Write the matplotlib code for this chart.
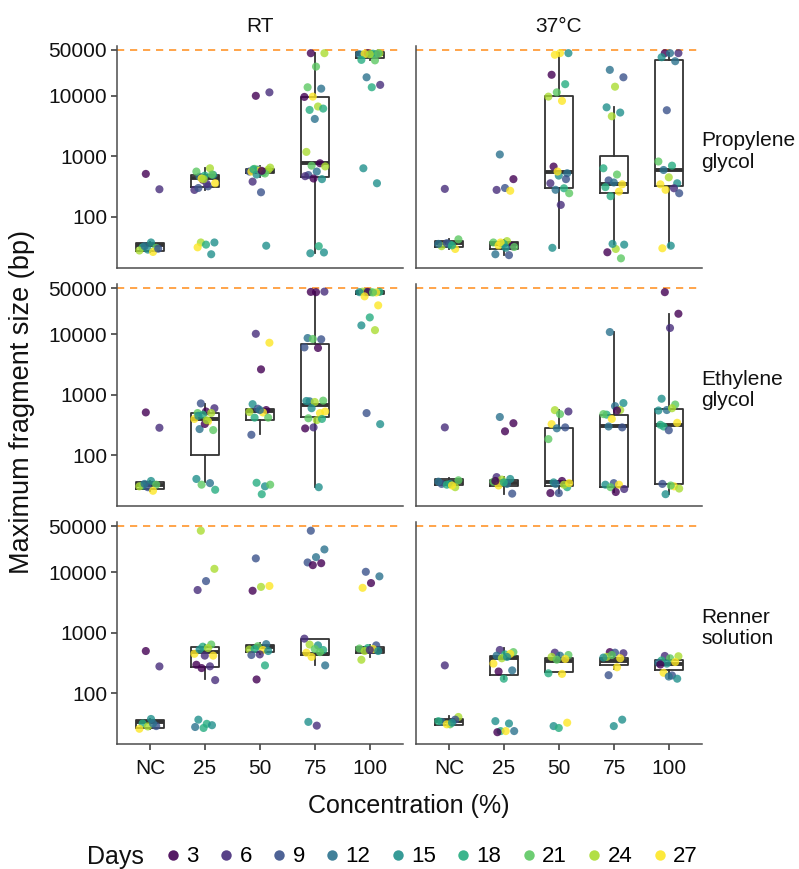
import numpy as np
import matplotlib.pyplot as plt
from matplotlib.lines import Line2D

plt.rcParams['font.family'] = ['Liberation Sans', 'DejaVu Sans']

concs = ['NC', '25', '50', '75', '100']
days = [3, 6, 9, 12, 15, 18, 21, 24, 27]
day_colors = ['#440154', '#472D7B', '#3B528B', '#2C728E', '#21908C',
              '#27AD81', '#5DC863', '#AADC32', '#FDE725']
temps = ['RT', '37°C']
solvents = ['Propylene\nglycol', 'Ethylene\nglycol', 'Renner\nsolution']
y_ticks = [100, 1000, 10000, 56600]
y_ticklabels = ['100', '1000', '10000', '50000']
cap_bp = 56600

# (day, max fragment bp) per concentration; box stats = (low whisker, q1, median, q3, high whisker)
pg_rt = [
    [(3, 512), (6, 286), (15, 38), (18, 31.6), (21, 31), (15, 29), (24, 28), (27, 26.5), (12, 33), (9, 30)],
    [(24, 38), (15, 38), (18, 35), (27, 31.6), (15, 24.3), (3, 410), (6, 279), (9, 320), (12, 460), (15, 494),
     (18, 480), (21, 560), (24, 634), (27, 430), (27, 360), (6, 350), (9, 300), (21, 500), (24, 420)],
    [(3, 9900), (6, 11300), (9, 255), (6, 382), (15, 33.6), (12, 600), (9, 560), (18, 540), (21, 620),
     (24, 600), (27, 580), (27, 560), (21, 520), (15, 500), (24, 650), (3, 575), (18, 610)],
    [(3, 49900), (24, 49900), (21, 30000), (21, 13700), (12, 13000), (27, 9600), (3, 9500), (24, 6600),
     (18, 5800), (18, 6100), (12, 4120), (24, 1180), (3, 767), (21, 700), (24, 680), (12, 560), (9, 490),
     (15, 420), (3, 430), (6, 470), (18, 33), (15, 25.2), (15, 26)],
    [(27, 49000), (24, 49500), (21, 48500), (15, 47000), (9, 48000), (3, 49900), (12, 48000), (18, 49000),
     (27, 48700), (21, 49500), (24, 48000), (18, 38700), (21, 38000), (12, 20000), (6, 15000), (18, 13700),
     (15, 634), (15, 359)],
]
pg_rt_box = [(26, 28, 35, 37.6, 38), (279, 308, 445, 494, 634), (450, 525, 578, 618, 680),
             (25.2, 462, 767, 9600, 49900), (38700, 41200, 48700, 51800, 50500)]

pg_37 = [
    [(6, 290), (21, 42.8), (15, 35), (24, 33), (27, 29.7), (9, 37), (12, 36), (18, 34)],
    [(12, 1070), (3, 420), (9, 300), (6, 279), (27, 270), (15, 36), (21, 38), (24, 40), (27, 34), (3, 33),
     (18, 36), (12, 24.3), (9, 23.5), (27, 38), (21, 32), (15, 31)],
    [(27, 47000), (15, 50000), (27, 50000), (3, 22000), (18, 15400), (21, 11300), (24, 9600), (27, 8170),
     (3, 676), (12, 525), (15, 480), (6, 359), (18, 297), (12, 280), (21, 246), (6, 158), (15, 31),
     (9, 420), (27, 560)],
    [(12, 26500), (9, 20000), (24, 14000), (15, 6400), (15, 5250), (24, 4560), (18, 634), (21, 500), (9, 400),
     (27, 345), (12, 370), (18, 310), (27, 262), (18, 220), (15, 35), (24, 29.7), (3, 26.2), (21, 20.8),
     (15, 36)],
    [(3, 50000), (6, 50000), (12, 50000), (15, 42800), (12, 36800), (9, 5730), (21, 820), (18, 700),
     (12, 594), (15, 359), (24, 450), (27, 345), (6, 297), (27, 280), (9, 246), (15, 33.6), (27, 30.5)],
]
pg_37_box = [(29.7, 32, 36.8, 40.2, 42.8), (24, 30, 35.5, 39, 42), (30.5, 300, 545, 10000, 50000),
             (36, 246, 350, 1025, 6600), (32.4, 328, 594, 38200, 50000)]

eg_rt = [
    [(3, 512), (6, 286), (15, 38), (18, 32), (21, 33), (9, 30), (24, 31), (27, 26.2), (12, 34)],
    [(9, 720), (6, 600), (3, 530), (21, 500), (24, 500), (18, 470), (27, 400), (27, 365), (12, 272),
     (21, 262), (3, 330), (15, 41), (12, 35), (21, 33), (18, 27.2), (24, 380), (15, 450)],
    [(6, 10100), (27, 7200), (3, 2620), (15, 700), (3, 560), (9, 590), (24, 520), (27, 510), (18, 420),
     (21, 420), (12, 560), (9, 219), (15, 31), (18, 35.5), (21, 33), (18, 23)],
    [(3, 49500), (6, 50000), (3, 49000), (12, 8600), (9, 8200), (21, 8300), (9, 6030), (3, 5900), (12, 780),
     (21, 800), (24, 760), (15, 790), (27, 499), (15, 600), (27, 530), (24, 382), (21, 410), (18, 400),
     (6, 290), (3, 279), (15, 30)],
    [(12, 49000), (18, 49500), (21, 49000), (24, 50000), (27, 48500), (3, 49500), (15, 49000), (21, 48500),
     (27, 41800), (27, 29700), (18, 18800), (15, 13900), (24, 11600), (9, 499), (15, 328)],
]
eg_rt_box = [(26.2, 28.3, 33, 37.2, 38), (37.2, 100, 400, 499, 702), (225, 385, 530, 588, 610),
             (30, 423, 680, 6850, 49500), (44000, 45600, 49000, 51800, 50500)]

eg_37 = [
    [(6, 290), (21, 39), (15, 34), (9, 34), (24, 30), (18, 33), (12, 37), (27, 32)],
    [(12, 430), (3, 340), (3, 250), (6, 44), (15, 41), (24, 40), (21, 37), (12, 34), (27, 32), (9, 23.5),
     (18, 36), (3, 38)],
    [(24, 558), (6, 530), (21, 480), (27, 328), (9, 290), (12, 280), (21, 186), (3, 38), (15, 36), (18, 30),
     (9, 24), (3, 24), (24, 33), (12, 34), (27, 35)],
    [(12, 10800), (15, 730), (12, 650), (18, 470), (24, 560), (27, 400), (21, 480), (3, 550), (12, 300),
     (9, 290), (9, 35), (15, 33), (27, 33), (21, 30), (6, 28), (3, 25)],
    [(3, 49000), (3, 21600), (6, 12600), (15, 860), (21, 690), (12, 560), (15, 550), (24, 600), (18, 300),
     (27, 345), (9, 260), (18, 320), (27, 31), (15, 23), (24, 28.5), (21, 32), (9, 34)],
]
eg_37_box = [(30, 32.4, 36.3, 40.2, 43), (23.5, 31.6, 35, 39, 44), (24, 31.6, 37.2, 283, 558),
             (25, 30.5, 300, 462, 10800), (23, 34, 320, 588, 21600)]

rs_rt = [
    [(3, 500), (6, 279), (15, 38), (18, 32), (9, 29), (24, 28.6), (27, 26.2), (12, 32)],
    [(24, 48000), (24, 11300), (9, 7100), (6, 5060), (21, 640), (18, 590), (27, 450), (24, 560), (15, 530),
     (27, 420), (6, 420), (3, 297), (6, 280), (3, 262), (6, 166), (18, 31.6), (15, 37), (15, 30), (18, 27),
     (12, 28)],
    [(9, 16800), (27, 5900), (24, 5700), (3, 4920), (12, 650), (21, 600), (24, 530), (27, 520), (18, 540),
     (15, 500), (6, 440), (9, 430), (18, 290), (3, 170)],
    [(9, 48000), (12, 23600), (12, 17600), (9, 14400), (3, 14000), (3, 13000), (6, 800), (15, 620),
     (24, 640), (18, 520), (21, 540), (27, 470), (21, 480), (27, 400), (12, 290), (6, 29.5), (15, 34)],
    [(9, 10100), (12, 8500), (3, 6590), (27, 5500), (9, 620), (18, 560), (21, 550), (27, 540), (24, 500),
     (15, 500), (6, 520), (24, 359)],
]
rs_rt_box = [(26, 26.9, 34, 36.3, 38), (170, 272, 475, 573, 640), (440, 487, 588, 618, 680),
             (290, 430, 455, 796, 800), (400, 470, 525, 588, 620)]

rs_37 = [
    [(6, 290), (24, 41), (21, 31), (12, 34), (9, 37), (27, 31), (18, 35), (15, 33)],
    [(6, 520), (21, 480), (18, 440), (12, 420), (27, 450), (24, 380), (27, 310), (15, 400), (3, 230),
     (12, 240), (18, 175), (15, 35), (15, 32), (18, 24), (12, 24), (27, 24), (3, 23)],
    [(6, 470), (21, 430), (12, 420), (24, 400), (27, 370), (21, 360), (18, 215), (27, 210), (15, 29),
     (27, 33), (18, 27)],
    [(3, 480), (6, 460), (9, 470), (24, 400), (27, 380), (21, 430), (15, 390), (27, 270), (9, 200),
     (15, 37), (15, 29)],
    [(6, 415), (24, 410), (21, 380), (18, 350), (27, 330), (15, 310), (12, 320), (9, 198), (27, 219),
     (15, 175), (12, 190), (3, 300)],
]
rs_37_box = [(29, 30.8, 35, 38.6, 42), (175, 198, 377, 418, 560), (210, 225, 340, 377, 470),
             (250, 293, 345, 385, 470), (180, 240, 310, 354, 420)]

panels = [[(pg_rt, pg_rt_box), (pg_37, pg_37_box)],
          [(eg_rt, eg_rt_box), (eg_37, eg_37_box)],
          [(rs_rt, rs_rt_box), (rs_37, rs_37_box)]]

W, H = 799, 869
fig = plt.figure(figsize=(W / 100, H / 100), dpi=100)

col_left = [117, 416]
col_w = 286
row_top = [45.5, 284, 522]
row_h = 222
axis_col = '#4D4D4D'
box_col = '#333333'


def jitter(n, width=0.2):
    # deterministic spread (no random numbers)
    return (np.mod(np.arange(n) * 0.618034 + 0.31, 1.0) - 0.5) * 2 * width


for r in range(3):
    for c in range(2):
        pts, box = panels[r][c]
        ax = fig.add_axes([col_left[c] / W, 1 - (row_top[r] + row_h) / H, col_w / W, row_h / H])
        ax.set_yscale('log')
        ax.set_ylim(14.7, 66800)
        ax.set_xlim(0.4, 5.6)

        stats = [dict(whislo=b[0], q1=b[1], med=b[2], q3=b[3], whishi=b[4]) for b in box]
        ax.bxp(stats, positions=range(1, 6), widths=0.52, showfliers=False, showcaps=False,
               boxprops=dict(color=box_col, lw=1.3),
               whiskerprops=dict(color=box_col, lw=1.3),
               medianprops=dict(color=box_col, lw=2.8, solid_capstyle='butt'),
               zorder=2)

        for i, grp in enumerate(pts):
            d = [p[0] for p in grp]
            v = [p[1] for p in grp]
            x = i + 1 + jitter(len(grp))
            cols = [day_colors[days.index(k)] for k in d]
            ax.scatter(x, v, s=34, c=cols, alpha=0.8, edgecolors='none', zorder=3)

        ax.axhline(cap_bp, color='#FF8C1A', lw=1.3, dashes=(4, 3.2), alpha=0.85, zorder=1)

        for s in ['top', 'right']:
            ax.spines[s].set_visible(False)
        for s in ['left', 'bottom']:
            ax.spines[s].set_color(axis_col)
            ax.spines[s].set_linewidth(1.1)

        ax.set_xticks(range(1, 6))
        ax.set_yticks(y_ticks)
        ax.yaxis.set_minor_locator(plt.NullLocator())
        ax.tick_params(axis='both', length=4, width=1.1, color=box_col, labelsize=15,
                       labelcolor='#111111', pad=3)
        ax.tick_params(axis='x', pad=7)
        if r == 2:
            ax.set_xticklabels(concs)
        else:
            ax.tick_params(axis='x', length=0, labelbottom=False)
        if c == 0:
            ax.set_yticklabels(y_ticklabels)
        else:
            ax.tick_params(axis='y', length=0, labelleft=False)

        if r == 0:
            fig.text((col_left[c] + col_w / 2) / W, 1 - 27 / H, temps[c], ha='center', va='center',
                     fontsize=15, color='#111111')
        if c == 1:
            fig.text(701 / W, 1 - (row_top[r] + row_h / 2 - 5) / H, solvents[r], ha='left', va='center',
                     fontsize=15, color='#111111', linespacing=1.15)

fig.text(22 / W, 1 - 402 / H, 'Maximum fragment size (bp)', rotation=90, ha='center', va='center',
         fontsize=19.5, color='#111111')
fig.text(409 / W, 1 - 806 / H, 'Concentration (%)', ha='center', va='center', fontsize=18,
         color='#111111')

fig.text(87 / W, 1 - 857 / H, 'Days', ha='left', va='center', fontsize=18, color='#111111')
handles = [Line2D([], [], marker='o', ls='none', color=col, markersize=7.5, alpha=0.9,
                  markeredgewidth=0) for col in day_colors]
fig.legend(handles, [str(d) for d in days], ncol=9, frameon=False, loc='center left',
           bbox_to_anchor=(162 / W, 1 - 857 / H), fontsize=16, handletextpad=0.1,
           columnspacing=0.73, handlelength=1.0, borderaxespad=0, borderpad=0)

fig.savefig('out.png', dpi=100)
